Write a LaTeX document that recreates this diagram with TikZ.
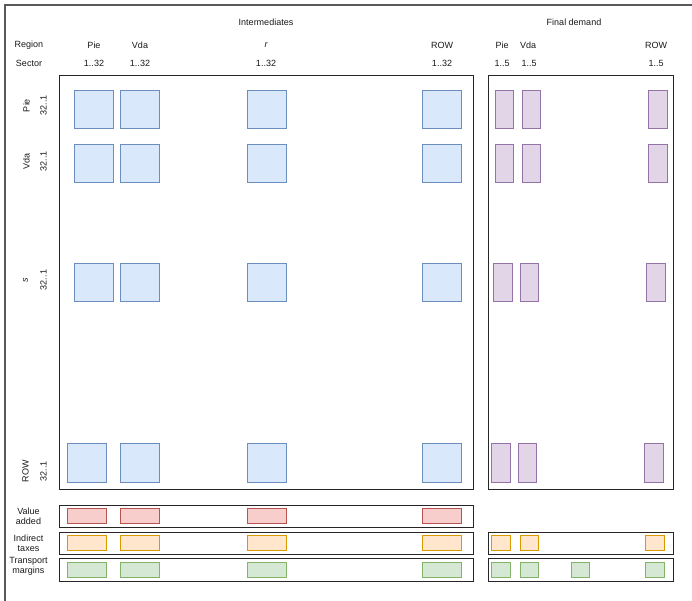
\documentclass[tikz,border=0pt]{standalone}
\usepackage{fontspec}
\setmainfont{Liberation Sans}
\definecolor{bluef}{HTML}{DAE8FC}\definecolor{blued}{HTML}{6C8EBF}
\definecolor{purf}{HTML}{E1D5E7}\definecolor{purd}{HTML}{9673A6}
\definecolor{redf}{HTML}{F8CECC}\definecolor{redd}{HTML}{B85450}
\definecolor{oraf}{HTML}{FFE6CC}\definecolor{orad}{HTML}{D79B00}
\definecolor{grnf}{HTML}{D5E8D4}\definecolor{grnd}{HTML}{82B366}
\newcommand{\cellbox}[6]{\node[#1,minimum width={(#5-#3)*1pt},minimum height={(#6-#4)*1pt}] (#2) at ({(#3+#5)/2},{(#4+#6)/2}) {};}
\begin{document}
\begin{tikzpicture}[x=1pt,y=-1pt,
  cell/.style={draw,inner sep=0pt,outer sep=0pt,line width=0.9pt},
  bluebox/.style={cell,fill=bluef,draw=blued},
  purbox/.style={cell,fill=purf,draw=purd},
  redbox/.style={cell,fill=redf,draw=redd},
  orabox/.style={cell,fill=oraf,draw=orad},
  grnbox/.style={cell,fill=grnf,draw=grnd},
  frame/.style={draw=black!85,inner sep=0pt,outer sep=0pt,line width=0.9pt},
  lbl/.style={font=\fontsize{9}{10.5}\selectfont,inner sep=0pt,text=black!90},
  rlbl/.style={lbl,rotate=90},
  two/.style={lbl,align=center,font=\fontsize{9}{10}\selectfont}]
\useasboundingbox (0,0) rectangle (692,601);
\draw[draw=black!65,line width=1.3pt] (5,601) -- (5,5) -- (692,5);
% frames
\cellbox{frame}{mainbox}{59.5}{75}{473.5}{489}
\cellbox{frame}{fdbox}{488.5}{75}{673}{489}
\cellbox{frame}{vabox}{59.5}{505}{473.5}{527.5}
\cellbox{frame}{itbox}{59.5}{532}{473.5}{554.5}
\cellbox{frame}{tmbox}{59.5}{558.5}{473.5}{581}
\cellbox{frame}{fditbox}{488.5}{532}{673}{554.5}
\cellbox{frame}{fdtmbox}{488.5}{558.5}{673}{581}
% header labels
\node[lbl] (interm) at (266,22) {Intermediates};
\node[lbl] (fdem) at (574,22) {Final demand};
\node[lbl] (region) at (29,45) {Region};
\node[lbl] (sector) at (29,63.5) {Sector};
\node[lbl] (hpie) at (94,45) {Pie};
\node[lbl] (hvda) at (140,45) {Vda};
\node[lbl] (hr) at (266,45) {\itshape r};
\node[lbl] (hrow) at (442,45) {ROW};
\node[lbl] (fpie) at (502,45) {Pie};
\node[lbl] (fvda) at (528,45) {Vda};
\node[lbl] (frow) at (656,45) {ROW};
\node[lbl] (spie) at (94,63.5) {1..32};
\node[lbl] (svda) at (140,63.5) {1..32};
\node[lbl] (sr) at (266,63.5) {1..32};
\node[lbl] (srow) at (442,63.5) {1..32};
\node[lbl] (fspie) at (502,63.5) {1..5};
\node[lbl] (fsvda) at (529,63.5) {1..5};
\node[lbl] (fsrow) at (656,63.5) {1..5};
% row labels
\node[rlbl] (rpie) at (26.5,105.5) {Pie};
\node[rlbl] (rpien) at (43.5,105.5) {32..1};
\node[rlbl] (rvda) at (26.5,161.5) {Vda};
\node[rlbl] (rvdan) at (43.5,161.5) {32..1};
\node[rlbl] (rs) at (25.5,280) {\itshape s};
\node[rlbl] (rsn) at (43.5,280) {32..1};
\node[rlbl] (rrow) at (25.5,471) {ROW};
\node[rlbl] (rrown) at (43.5,471) {32..1};
\node[two] (lva) at (28.5,516) {Value\\added};
\node[two] (lit) at (28.5,543.5) {Indirect\\taxes};
\node[two] (ltm) at (28.5,566.5) {Transport\\margins};
% blue intermediates
\cellbox{bluebox}{b11}{74}{90}{113.5}{128.5}
\cellbox{bluebox}{b12}{120.5}{90}{159.5}{128.5}
\cellbox{bluebox}{b13}{247}{90}{286}{128.5}
\cellbox{bluebox}{b14}{422.5}{90}{461}{128.5}
\cellbox{bluebox}{b21}{74}{144}{113.5}{182.5}
\cellbox{bluebox}{b22}{120.5}{144}{159.5}{182.5}
\cellbox{bluebox}{b23}{247}{144}{286}{182.5}
\cellbox{bluebox}{b24}{422.5}{144}{461}{182.5}
\cellbox{bluebox}{b31}{74}{263}{113.5}{301.5}
\cellbox{bluebox}{b32}{120.5}{263}{159.5}{301.5}
\cellbox{bluebox}{b33}{247}{263}{286}{301.5}
\cellbox{bluebox}{b34}{422.5}{263}{461}{301.5}
\cellbox{bluebox}{b41}{67}{443.5}{106}{482}
\cellbox{bluebox}{b42}{120.5}{443.5}{159.5}{482}
\cellbox{bluebox}{b43}{247}{443.5}{286}{482}
\cellbox{bluebox}{b44}{422.5}{443.5}{461}{482}
% purple final demand
\cellbox{purbox}{p11}{495}{90}{513.5}{128.5}
\cellbox{purbox}{p12}{522}{90}{540.5}{128.5}
\cellbox{purbox}{p13}{648.5}{90}{667}{128.5}
\cellbox{purbox}{p21}{495}{144}{513.5}{182.5}
\cellbox{purbox}{p22}{522}{144}{540.5}{182.5}
\cellbox{purbox}{p23}{648.5}{144}{667}{182.5}
\cellbox{purbox}{p31}{493.5}{263}{512}{301.5}
\cellbox{purbox}{p32}{520}{263}{538.5}{301.5}
\cellbox{purbox}{p33}{646.5}{263}{665}{301.5}
\cellbox{purbox}{p41}{491.5}{443.5}{510}{482}
\cellbox{purbox}{p42}{518}{443.5}{536.5}{482}
\cellbox{purbox}{p43}{644.5}{443.5}{663}{482}
% value added
\cellbox{redbox}{va1}{67}{508.5}{106}{523.5}
\cellbox{redbox}{va2}{120.5}{508.5}{159.5}{523.5}
\cellbox{redbox}{va3}{247}{508.5}{286}{523.5}
\cellbox{redbox}{va4}{422.5}{508.5}{461}{523.5}
% indirect taxes
\cellbox{orabox}{it1}{67}{535.5}{106}{550.5}
\cellbox{orabox}{it2}{120.5}{535.5}{159.5}{550.5}
\cellbox{orabox}{it3}{247}{535.5}{286}{550.5}
\cellbox{orabox}{it4}{422.5}{535.5}{461}{550.5}
\cellbox{orabox}{fit1}{491.5}{535.5}{510}{550.5}
\cellbox{orabox}{fit2}{520}{535.5}{538.5}{550.5}
\cellbox{orabox}{fit3}{645.5}{535.5}{664}{550.5}
% transport margins
\cellbox{grnbox}{tm1}{67}{562.5}{106}{577.5}
\cellbox{grnbox}{tm2}{120.5}{562.5}{159.5}{577.5}
\cellbox{grnbox}{tm3}{247}{562.5}{286}{577.5}
\cellbox{grnbox}{tm4}{422.5}{562.5}{461}{577.5}
\cellbox{grnbox}{ftm1}{491.5}{562.5}{510}{577.5}
\cellbox{grnbox}{ftm2}{520}{562.5}{538.5}{577.5}
\cellbox{grnbox}{ftm3}{571}{562.5}{589.5}{577.5}
\cellbox{grnbox}{ftm4}{645.5}{562.5}{664}{577.5}
\end{tikzpicture}
\end{document}
